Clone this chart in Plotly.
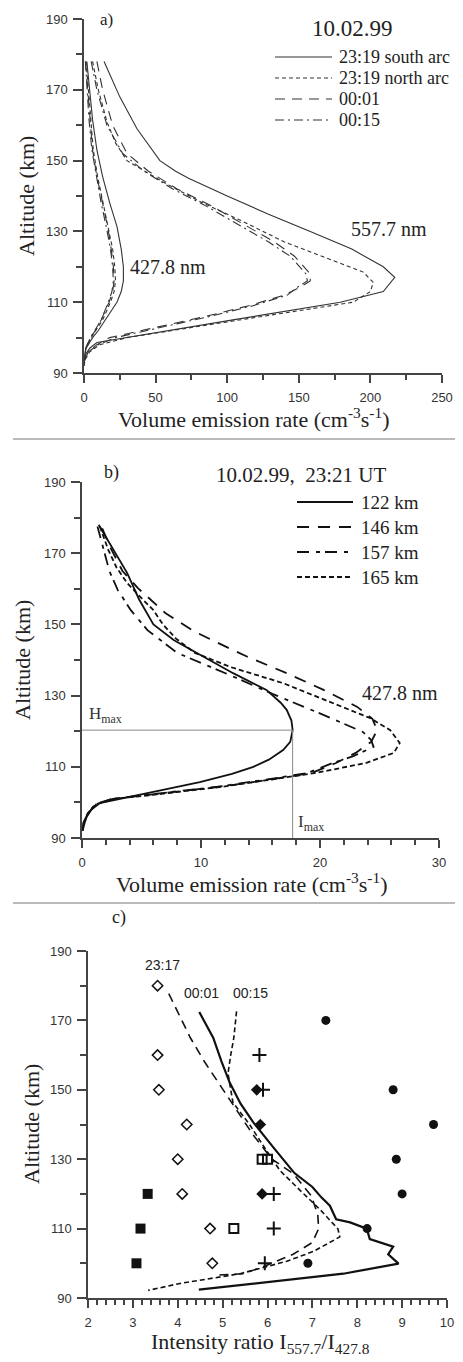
import plotly.graph_objects as go

# The page body adds an 8px margin, so the figure is built 8px smaller and every
# layout position (given in reference-picture pixels) is shifted by that offset.
OFF = 8
W, H = 463 - OFF, 1362 - OFF
def px(x): return (x - OFF) / W
def py(y): return 1 - (y - OFF) / H

SERIF = "Liberation Serif, Times New Roman, serif"
SANS = "Liberation Sans, Arial, sans-serif"

# ---------------- Panel a: volume emission rate (cm^-3 s^-1) vs altitude (km)
a557_south_h = [178, 168, 159, 150, 147, 145, 140, 135, 130, 125, 120, 117, 113, 110, 105, 100, 98.6, 97, 95.5, 94, 92]
a557_south_v = [14, 25, 37, 53, 64, 73, 100, 128, 158, 187, 209, 217, 209, 179, 104, 30, 9, 4, 1.5, 0.5, 0]

a557_north_h = [178, 170, 161, 155, 150, 144, 138, 133, 127, 122, 118.5, 115.6, 113, 110, 105, 100, 98, 96, 94, 92]
a557_north_v = [6, 10, 16, 22, 30, 55, 83, 110, 140, 172, 195, 202, 200, 188, 110, 30, 11, 4, 1, 0]

a557_0001_h = [178, 170, 160, 152, 147, 142, 137, 132, 127, 123, 120, 118, 116, 114.5, 112, 109, 106, 103, 100, 98, 96, 93]
a557_0001_v = [9, 13, 20, 30, 45, 65, 90, 112, 133, 147, 154, 158, 158, 152, 140, 115, 85, 52, 18, 9, 3, 0]
a557_0015_v = [5, 9, 16, 27, 42, 62, 86, 108, 129, 144, 151, 155, 156, 150, 142, 118, 88, 56, 22, 10, 3, 0]

a428_h = [178, 170, 161.5, 153, 145.5, 138, 131.4, 125, 120, 116, 113, 110, 105, 102, 100, 97, 95, 93]
a428_south_v = [2, 4, 6, 9, 13, 18, 23, 26, 27.5, 27.5, 26, 23, 15, 10, 6, 1.5, 0.5, 0]
a428_north_v = [1.5, 3, 4.5, 6.5, 9.5, 13.5, 17, 20, 21.5, 22, 21, 18.5, 13, 8.5, 5, 1.3, 0.4, 0]
a428_0001_v = [1, 2.5, 4, 6, 9, 13, 16.5, 19, 20.5, 21, 20, 17.5, 12, 8, 4.5, 1.2, 0.4, 0]
a428_0015_v = [1, 2, 3.5, 5.5, 8.5, 12, 15.5, 18.5, 20, 20.5, 19.5, 17, 12, 7.5, 4.5, 1.2, 0.4, 0]

a_names = ["23:19 south arc", "23:19 north arc", "00:01", "00:15"]
a_dashes = ["solid", "4px,3px", "10px,7px", "9px,4px,2px,4px"]

# ---------------- Panel b: 427.8 nm at 10.02.99, 23:21 UT
b122_h = [178, 170, 164.4, 157, 150, 145.6, 140, 136.3, 131.6, 128, 126, 123, 120.3, 117, 114.7, 112, 110, 108, 105.7, 103, 100.7, 99.8, 98, 96, 94, 92]
b122_v = [1.4, 2.8, 3.8, 4.8, 6.0, 7.7, 10.7, 12.7, 15.5, 16.7, 17.2, 17.6, 17.7, 17.5, 16.9, 15.7, 14.4, 12.6, 9.9, 6.0, 2.6, 1.5, 0.8, 0.4, 0.2, 0.05]

b146_h = [177, 171.8, 165, 160.2, 153.2, 147.9, 143.4, 140.9, 136.3, 131.6, 126.9, 123.5, 120.3, 117, 113.9, 111, 108.3, 106.5, 104.4, 102.1, 101, 99.5, 97, 94, 92]
b146_v = [1.7, 2.35, 3.4, 4.7, 7.0, 9.5, 12.3, 13.9, 17.2, 20.3, 23.1, 24.4, 24.8, 24.3, 23.0, 21.3, 19.3, 16.0, 11.6, 5.7, 2.6, 1.2, 0.5, 0.1, 0.03]

b157_h = [177.5, 170.9, 165, 159.7, 154, 148.4, 142, 135.8, 130.5, 125.4, 122, 119.8, 117.5, 115.6, 113, 111, 108.3, 106.5, 104.4, 102.1, 101, 99.5, 97, 94, 92]
b157_v = [1.3, 1.8, 2.3, 3.0, 4.1, 5.5, 8.0, 12.4, 16.0, 19.7, 22.0, 23.6, 24.3, 24.5, 22.8, 21.0, 19.0, 15.7, 11.4, 5.5, 2.5, 1.1, 0.5, 0.1, 0.03]

b165_h = [177.5, 171, 166, 161.6, 157.7, 154, 150, 146, 142, 138, 133.5, 127.9, 123.7, 120.3, 116.7, 113.9, 111.1, 108.3, 106.5, 104.4, 102.1, 101, 99.5, 97, 94, 92]
b165_v = [1.5, 2.2, 2.9, 3.8, 4.9, 6.0, 6.8, 7.9, 9.5, 12.5, 16.9, 21.1, 24.2, 25.9, 26.7, 26.2, 23.9, 19.7, 16.2, 11.8, 5.9, 2.7, 1.2, 0.5, 0.1, 0.03]

b_names = ["122 km", "146 km", "157 km", "165 km"]
b_dashes = ["solid", "12px,9px", "12px,7px,4px,5px", "5px,3px"]

# ---------------- Panel c: intensity ratio I557.7 / I427.8
c_open_diamond_r = [3.55, 3.55, 3.58, 4.2, 4.0, 4.1, 4.72, 4.77]
c_open_diamond_h = [180, 160, 150, 140, 130, 120, 110, 100]
c_circle_r = [7.3, 8.8, 9.7, 8.87, 9.0, 8.22, 6.9]
c_circle_h = [170, 150, 140, 130, 120, 110, 100]
c_square_r = [3.33, 3.17, 3.08]
c_square_h = [120, 110, 100]
c_open_square_r = [5.25, 5.88, 6.0]
c_open_square_h = [110, 130, 130]
c_plus_r = [5.82, 5.9, 6.14, 6.14, 5.94]
c_plus_h = [160, 150, 120, 110, 100]
c_diamond_r = [5.76, 5.84, 5.88]
c_diamond_h = [150, 140, 120]

c0001_h = [172.4, 165, 158, 152, 146, 140.7, 133.4, 126, 122, 119, 116.6, 112.7, 111.8, 110, 107, 104.8, 102.6, 99.9, 97, 92.4]
c0001_r = [4.48, 4.79, 4.98, 5.16, 5.4, 5.68, 6.13, 6.6, 7.0, 7.2, 7.39, 7.53, 7.84, 8.21, 8.28, 8.8, 8.69, 8.92, 7.69, 4.47]

c2317_h = [177.7, 170, 165, 158, 148.3, 137, 130, 125.9, 119.4, 114, 110, 106, 102.6, 99, 97, 96.6]
c2317_r = [3.8, 4.1, 4.28, 4.6, 5.1, 5.68, 6.1, 6.57, 6.98, 7.12, 7.14, 7.0, 6.57, 5.9, 5.46, 4.87]

c0015_h = [172.6, 165, 160, 154.7, 146.3, 140, 133, 126.7, 121.1, 115.5, 109.9, 107.6, 103.4, 100.6, 97, 94.2, 92.2]
c0015_r = [5.31, 5.25, 5.18, 5.12, 5.23, 5.6, 5.95, 6.28, 6.72, 7.17, 7.57, 7.61, 7.02, 6.43, 5.39, 4.05, 3.34]

fig = go.Figure()

# ---- panel a traces
a557 = [(a557_south_v, a557_south_h), (a557_north_v, a557_north_h),
        (a557_0001_v, a557_0001_h), (a557_0015_v, a557_0001_h)]
a428 = [a428_south_v, a428_north_v, a428_0001_v, a428_0015_v]
A_COLOR, A_WIDTH = "#333", 1.1
for i, name in enumerate(a_names):
    v, h = a557[i]
    fig.add_trace(go.Scatter(x=v, y=h, mode="lines", name=name + " (557.7 nm)",
                             line=dict(color=A_COLOR, width=A_WIDTH, dash=a_dashes[i]),
                             xaxis="x", yaxis="y"))
for i, name in enumerate(a_names):
    fig.add_trace(go.Scatter(x=a428[i], y=a428_h, mode="lines", name=name + " (427.8 nm)",
                             line=dict(color=A_COLOR, width=A_WIDTH, dash=a_dashes[i]),
                             xaxis="x", yaxis="y"))

# ---- panel b traces
B_COLOR, B_WIDTH = "#111", 1.8
b_data = [(b122_v, b122_h), (b146_v, b146_h), (b157_v, b157_h), (b165_v, b165_h)]
for i, name in enumerate(b_names):
    v, h = b_data[i]
    fig.add_trace(go.Scatter(x=v, y=h, mode="lines", name=name,
                             line=dict(color=B_COLOR, width=B_WIDTH, dash=b_dashes[i]),
                             xaxis="x2", yaxis="y2"))

# Hmax / Imax guide lines derived from the 122 km profile
imax = max(b122_v)
hmax = b122_h[b122_v.index(imax)]
fig.add_trace(go.Scatter(x=[0, imax, imax], y=[hmax, hmax, 90], mode="lines", name="Hmax / Imax",
                         line=dict(color="#888", width=1), xaxis="x2", yaxis="y2", hoverinfo="skip"))

# ---- panel c traces
c_lines = [("23:17", c2317_r, c2317_h, "9px,6px", 1.6),
           ("00:01", c0001_r, c0001_h, "solid", 2.2),
           ("00:15", c0015_r, c0015_h, "5px,3px", 1.6)]
for name, r, h, d, w in c_lines:
    fig.add_trace(go.Scatter(x=r, y=h, mode="lines", name=name,
                             line=dict(color="#111", width=w, dash=d),
                             xaxis="x3", yaxis="y3"))

c_markers = [
    (c_open_diamond_r, c_open_diamond_h, dict(symbol="diamond-open", size=8, line=dict(width=1.5, color="#111"), color="#111")),
    (c_circle_r, c_circle_h, dict(symbol="circle", size=9, color="#111")),
    (c_square_r, c_square_h, dict(symbol="square", size=10, color="#111")),
    (c_open_square_r, c_open_square_h, dict(symbol="square-open", size=9, line=dict(width=2, color="#111"), color="#111")),
    (c_plus_r, c_plus_h, dict(symbol="cross-thin", size=10, line=dict(width=2, color="#111"), color="#111")),
    (c_diamond_r, c_diamond_h, dict(symbol="diamond", size=9, color="#111")),
]
for r, h, m in c_markers:
    fig.add_trace(go.Scatter(x=r, y=h, mode="markers", marker=m, xaxis="x3", yaxis="y3"))

# ---- axes
tickfont = dict(family=SANS, size=13, color="#333")
def xax(dom, rng, dtick, mdtick, anchor):
    return dict(domain=dom, range=rng, anchor=anchor, showline=True, linecolor="#444", linewidth=1.5,
                ticks="outside", ticklen=8, tickwidth=1.5, tickcolor="#444", dtick=dtick, tick0=rng[0],
                minor=dict(dtick=mdtick, ticklen=5, tickwidth=1.5, tickcolor="#444", ticks="outside"),
                showgrid=False, zeroline=False, tickfont=tickfont, ticklabelstandoff=4, fixedrange=True)
def yax(dom, anchor):
    return dict(domain=dom, range=[90, 190], anchor=anchor, showline=True, linecolor="#444", linewidth=1.5,
                ticks="outside", ticklen=9, tickwidth=1.5, tickcolor="#444", dtick=20, tick0=90,
                minor=dict(dtick=10, ticklen=6, tickwidth=1.5, tickcolor="#444", ticks="outside"),
                showgrid=False, zeroline=False, tickfont=tickfont, ticklabelstandoff=3, fixedrange=True)

fig.update_layout(
    width=W, height=H, margin=dict(l=0, r=0, t=0, b=0, pad=0, autoexpand=False),
    paper_bgcolor="white", plot_bgcolor="white", showlegend=False,
    xaxis=xax([px(84), px(442)], [0, 250], 50, 25, "y"),
    yaxis=yax([py(373), py(19)], "x"),
    xaxis2=xax([px(82), px(439)], [0, 30], 10, 2, "y2"),
    yaxis2=yax([py(838), py(482)], "x2"),
    xaxis3=xax([px(88), px(447)], [2, 10], 1, 0.2, "y3"),
    yaxis3=yax([py(1298), py(951)], "x3"),
)

def ann(text, x, y, size, family=SERIF, angle=0, color="#222", xanchor="center"):
    fig.add_annotation(text=text, x=px(x), y=py(y), xref="paper", yref="paper",
                       showarrow=False, xanchor=xanchor, yanchor="middle", textangle=angle,
                       font=dict(family=family, size=size, color=color))

# ---- legend keys (drawn beside each panel, styles taken from the trace styles)
def legend_block(names, dashes, color, width, x0, x1, xt, rows, size):
    for name, d, yy in zip(names, dashes, rows):
        fig.add_shape(type="line", xref="paper", yref="paper", x0=px(x0), x1=px(x1),
                      y0=py(yy), y1=py(yy), line=dict(color=color, width=width, dash=d))
        ann(name, xt, yy, size, xanchor="left")

legend_block(a_names, a_dashes, A_COLOR, A_WIDTH, 275, 332, 337, [57, 78, 99, 120], 18)
legend_block(b_names, b_dashes, B_COLOR, B_WIDTH, 297, 353, 359, [502, 527, 552, 577], 19)

ann("a)", 106, 19, 17)
ann("10.02.99", 352, 29, 23)
ann("557.7 nm", 389, 229, 20)
ann("427.8 nm", 168, 267, 20)
ann("Altitude (km)", 27, 196, 22, angle=-90)
ann("Volume emission rate (cm<sup>-3</sup>s<sup>-1</sup>)", 253, 418, 22)

ann("b)", 111, 472, 18)
ann("10.02.99,  23:21 UT", 301, 475, 21)
ann("427.8 nm", 400, 693, 20)
ann("Altitude (km)", 23, 660, 22, angle=-90)
ann("Volume emission rate (cm<sup>-3</sup>s<sup>-1</sup>)", 251, 883, 22)
fig.add_annotation(text="H<sub>max</sub>", x=0, y=hmax, xref="x2", yref="y2", showarrow=False,
                   xanchor="left", yanchor="bottom", xshift=5, yshift=2,
                   font=dict(family=SERIF, size=17, color="#333"))
fig.add_annotation(text="I<sub>max</sub>", x=imax, y=90, xref="x2", yref="y2", showarrow=False,
                   xanchor="left", yanchor="bottom", xshift=3, yshift=2,
                   font=dict(family=SERIF, size=17, color="#333"))

ann("c)", 119, 917, 18)
ann("23:17", 162, 965, 14, family=SANS)
ann("00:01", 201, 993, 14, family=SANS)
ann("00:15", 250, 993, 14, family=SANS)
ann("Altitude (km)", 31, 1124, 22, angle=-90)
ann("Intensity ratio I<sub>557.7</sub>/I<sub>427.8</sub>", 260, 1343, 22)

# separators between panels
for yy in (439, 903):
    fig.add_shape(type="line", xref="paper", yref="paper", x0=px(13), x1=1, y0=py(yy), y1=py(yy),
                  line=dict(color="#bbb", width=2))

fig.write_html("out.html")
